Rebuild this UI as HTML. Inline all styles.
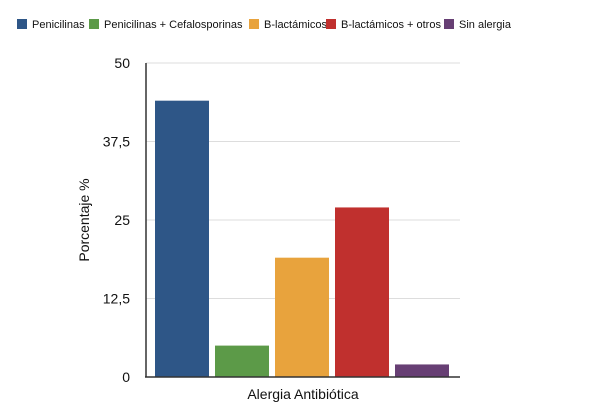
<!DOCTYPE html>
<html><head><meta charset="utf-8"><style>
body{margin:0;background:#fff;}
svg{display:block;font-family:"Liberation Sans",Arial,sans-serif;}
</style></head><body>
<svg id="c" width="600" height="417"></svg>
<script>
const categories=["Penicilinas","Penicilinas + Cefalosporinas","B-lactámicos","B-lactámicos + otros","Sin alergia"];
const values=[44,5,19,27,2];
const colors=["#2e5687","#5c9a48","#e8a33d","#c0302e","#673f74"];
const ticks=[0,12.5,25,37.5,50];
const tickLabels=["0","12,5","25","37,5","50"];
const legendX=[17,89,249,326,444];
const NS="http://www.w3.org/2000/svg";
const svg=document.getElementById("c");
function el(t,a,p){const e=document.createElementNS(NS,t);for(const k in a)e.setAttribute(k,a[k]);(p||svg).appendChild(e);return e;}
const x0=146,x1=460,yTop=63,yBot=377,ymax=50;
const y=v=>yBot-(v/ymax)*(yBot-yTop);
const slot=60;
ticks.forEach((t,i)=>{
  if(t>0){const g=el("line",{x1:x0,x2:x1,y1:y(t),y2:y(t),stroke:"#dddddd","stroke-width":1});
  
  }
  const l=el("text",{x:x0-16,y:y(t)+5,"text-anchor":"end","font-size":14,fill:"#111"});
  l.textContent=tickLabels[i];
  
  
});
values.forEach((v,i)=>{
  const b=el("rect",{x:x0+slot*i+9,y:y(v),width:54,height:yBot-y(v),fill:colors[i]});
  
  
});
const ya=el("line",{x1:x0,x2:x0,y1:yTop,y2:yBot,stroke:"#333","stroke-width":1.5});


const xa=el("line",{x1:x0-1,x2:x1,y1:yBot,y2:yBot,stroke:"#333","stroke-width":1.5});


const xt=el("text",{x:303,y:399,"text-anchor":"middle","font-size":14,fill:"#111"});
xt.textContent="Alergia Antibiótica";


const yt=el("text",{x:0,y:0,"text-anchor":"middle","font-size":14,fill:"#111",transform:"translate(89,220) rotate(-90)"});
yt.textContent="Porcentaje %";


categories.forEach((c,i)=>{
  const g=el("g",{});
  
  
  el("rect",{x:legendX[i],y:19,width:10,height:10,fill:colors[i]},g);
  const t=el("text",{x:legendX[i]+15,y:28,"font-size":11,fill:"#111"},g);
  t.textContent=c;
});
</script>
</body></html>
